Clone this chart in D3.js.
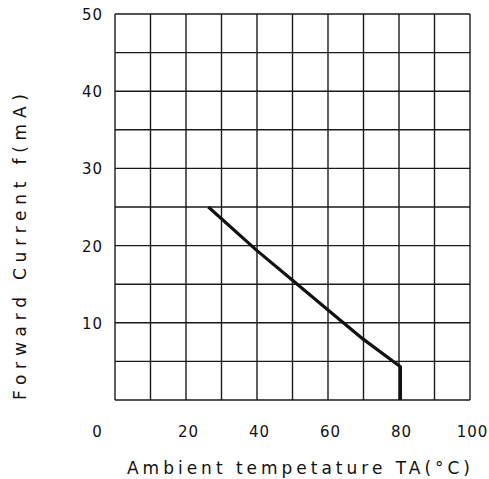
<!DOCTYPE html>
<html>
<head>
<meta charset="utf-8">
<script src="https://cdn.jsdelivr.net/npm/d3@7"></script>
<style>
    body { margin: 0; background: #fff; }
    text { font-family: "DejaVu Sans", sans-serif; fill: #111; }
</style>
</head>
<body>
<svg id="chart" width="489" height="479"></svg>
<script>
/*
 Data
 */

var xTickValues = [0, 20, 40, 60, 80, 100];
var yTickValues = [10, 20, 30, 40, 50];
var curveTemp = [26.3, 40, 50, 60, 70, 80.4, 80.4];
var curveCurrent = [25, 19.35, 15.5, 11.65, 7.85, 4.3, 0];

var X_TITLE = "Ambient tempetature TA(°C)";
var Y_TITLE = "Forward Current f(mA)";

/*
 Layout
 */

var VAR_LEFT = 115, VAR_RIGHT = 470, VAR_TOP = 14, VAR_BOTTOM = 400;

var svg = d3.select('#chart');

var x = d3.scaleLinear().domain([0, 100]).range([VAR_LEFT, VAR_RIGHT]);
var y = d3.scaleLinear().domain([0, 50]).range([VAR_BOTTOM, VAR_TOP]);

/*
 Grid
 */

function makeGridSVG(svg) {
    var grid = svg.append('g').classed('grid', true);

    grid.selectAll('.vline')
        .data(d3.range(0, 101, 10))
        .enter().append('line')
        .classed('vline', true)
        .attr('x1', function (d) {
            return x(d);
        })
        .attr('x2', function (d) {
            return x(d);
        })
        .attr('y1', y(0))
        .attr('y2', y(50))
        .attr('stroke', '#1a1a1a')
        .attr('stroke-width', 1.4);

    grid.selectAll('.hline')
        .data(d3.range(0, 51, 5))
        .enter().append('line')
        .classed('hline', true)
        .attr('x1', x(0))
        .attr('x2', x(100))
        .attr('y1', function (d) {
            return y(d);
        })
        .attr('y2', function (d) {
            return y(d);
        })
        .attr('stroke', '#1a1a1a')
        .attr('stroke-width', 1.4);

    return grid;
}

/*
 Axes labels
 */

function makeAxesSVG(svg) {
    var xAxis = svg.append('g')
        .attr('transform', 'translate(0,' + (VAR_BOTTOM + 37) + ')')
        .call(d3.axisBottom(x).tickValues(xTickValues).tickSize(0).tickPadding(0));
    xAxis.select('.domain').remove();
    xAxis.selectAll('text')
        .attr('dy', 0)
        .attr('dx', function (d) {
            return d === 0 ? -18 : 2;
        })
        .style('font-size', '15px')
        .style('letter-spacing', '1px')
        .style('font-family', '"DejaVu Sans", sans-serif')
        .attr('fill', '#111');

    var yAxis = svg.append('g')
        .attr('transform', 'translate(' + (VAR_LEFT - 12) + ',0)')
        .call(d3.axisLeft(y).tickValues(yTickValues).tickSize(0).tickPadding(0));
    yAxis.select('.domain').remove();
    yAxis.selectAll('text')
        .attr('dy', '0.36em')
        .style('font-size', '15px')
        .style('letter-spacing', '1px')
        .style('font-family', '"DejaVu Sans", sans-serif')
        .attr('fill', '#111');

    svg.append('text')
        .attr('x', 127)
        .attr('y', 474)
        .attr('textLength', 343)
        .attr('lengthAdjust', 'spacing')
        .style('font-size', '17px')
        .text(X_TITLE);

    svg.append('text')
        .attr('transform', 'translate(26,400) rotate(-90)')
        .attr('textLength', 306)
        .attr('lengthAdjust', 'spacing')
        .style('font-size', '17px')
        .text(Y_TITLE);
}

/*
 Curve
 */

function makeCurveSVG(svg) {
    var pts = curveTemp.map(function (t, i) {
        return [t, curveCurrent[i]];
    });
    var line = d3.line()
        .x(function (d) {
            return x(d[0]);
        })
        .y(function (d) {
            return y(d[1]);
        });
    return svg.append('path')
        .datum(pts)
        .attr('d', line)
        .attr('fill', 'none')
        .attr('stroke', '#111')
        .attr('stroke-width', 3.2)
        .attr('stroke-linejoin', 'round');
}

makeGridSVG(svg);
makeAxesSVG(svg);
makeCurveSVG(svg);
</script>
</body>
</html>
